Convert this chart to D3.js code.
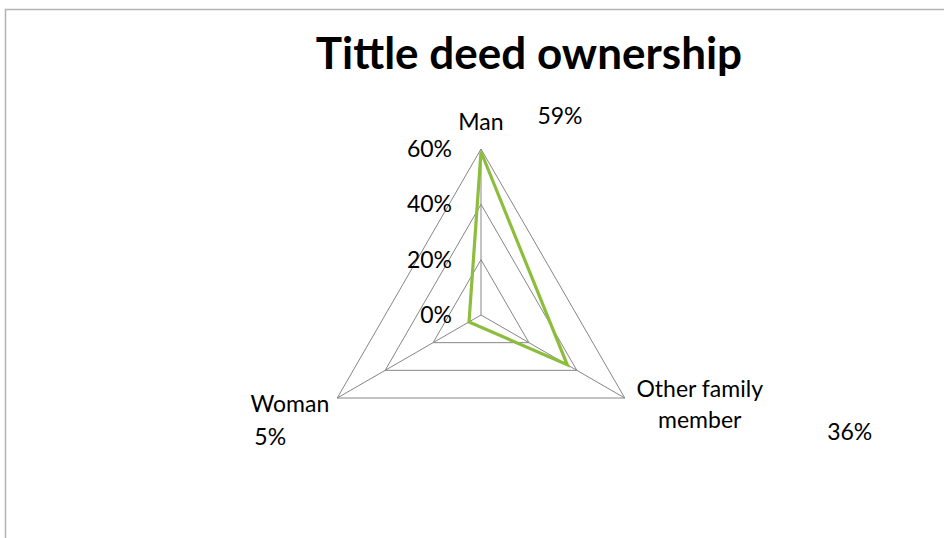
<!DOCTYPE html>
<html>
<head>
<meta charset="utf-8">
<script src="https://cdn.jsdelivr.net/npm/d3@7"></script>
<style>
    body { margin: 0; background: #fff; }
    svg { display: block; font-family: Lato, "Open Sans", sans-serif; }
</style>
</head>
<body>
<svg id="chart" width="944" height="538"></svg>
<script>
// data
const categories = ["Man", "Other family member", "Woman"];
const values = [0.59, 0.36, 0.05];
const valueLabels = ["59%", "36%", "5%"];
const tickValues = [0, 0.2, 0.4, 0.6];
const tickLabels = ["0%", "20%", "40%", "60%"];

const width = 944, height = 538;
const cx = 481, cy = 315;
const labelSize = 23;

let svg = d3.select("#chart");

// outer frame (runs off the right and bottom edges)
svg.append("rect")
    .attr("x", 5.5)
    .attr("y", 9.5)
    .attr("width", 1000)
    .attr("height", 1000)
    .attr("fill", "none")
    .attr("stroke", "#b4b4b4")
    .attr("stroke-width", 1.5);

svg.append("text")
    .attr("x", 529)
    .attr("y", 69)
    .attr("text-anchor", "middle")
    .attr("font-size", 44)
    .attr("font-weight", "bold")
    .text("Tittle deed ownership");

let r = d3.scaleLinear().domain([0, 0.6]).range([0, 166]);
let angle = d3.scaleLinear().domain([0, categories.length]).range([0, 2 * Math.PI]);

function pt(i, v) {
    let a = angle(i);
    return [cx + r(v) * Math.sin(a), cy - r(v) * Math.cos(a)];
}

let g = svg.append("g");

// grid triangles
g.selectAll("path.grid")
    .data(tickValues.slice(1))
    .enter()
    .append("path")
    .attr("class", "grid")
    .attr("d", t => d3.line()(categories.map((c, i) => pt(i, t))) + "Z")
    .attr("fill", "none")
    .attr("stroke", "#868686")
    .attr("stroke-width", 1);

// spokes
g.selectAll("line.spoke")
    .data(categories)
    .enter()
    .append("line")
    .attr("class", "spoke")
    .attr("x1", cx).attr("y1", cy)
    .attr("x2", (c, i) => pt(i, 0.6)[0])
    .attr("y2", (c, i) => pt(i, 0.6)[1])
    .attr("stroke", "#868686")
    .attr("stroke-width", 1);

// tick labels along the top spoke
g.selectAll("text.tick")
    .data(tickValues)
    .enter()
    .append("text")
    .attr("class", "tick")
    .attr("x", cx - 29)
    .attr("y", t => cy - r(t) + 8)
    .attr("text-anchor", "end")
    .attr("font-size", labelSize)
    .text((t, i) => tickLabels[i]);

// series
g.append("path")
    .attr("d", d3.line()(values.map((v, i) => pt(i, v))) + "Z")
    .attr("fill", "none")
    .attr("stroke", "#8dbd3c")
    .attr("stroke-width", 3.2)
    .attr("stroke-linejoin", "miter");

// category labels
let catLayout = [
    { dx: 0, dy: -19, anchor: "middle", lines: ["Man"] },
    { dx: 75, dy: -1, anchor: "middle", lines: ["Other family", "member"] },
    { dx: -8, dy: 14, anchor: "end", lines: ["Woman"] }
];

categories.forEach((c, i) => {
    let p = pt(i, 0.6);
    let L = catLayout[i];
    let t = g.append("text")
        .attr("text-anchor", L.anchor)
        .attr("font-size", labelSize);
    L.lines.forEach((line, j) => {
        t.append("tspan")
            .attr("x", p[0] + L.dx)
            .attr("y", p[1] + L.dy + j * 31)
            .text(line);
    });
});

// data labels
let labelOffsets = [[79, -25], [225, 42], [-67, 47]];
g.selectAll("text.value")
    .data(values)
    .enter()
    .append("text")
    .attr("class", "value")
    .attr("x", (v, i) => pt(i, 0.6)[0] + labelOffsets[i][0])
    .attr("y", (v, i) => pt(i, 0.6)[1] + labelOffsets[i][1])
    .attr("text-anchor", "middle")
    .attr("font-size", labelSize)
    .text((v, i) => valueLabels[i]);
</script>
</body>
</html>
